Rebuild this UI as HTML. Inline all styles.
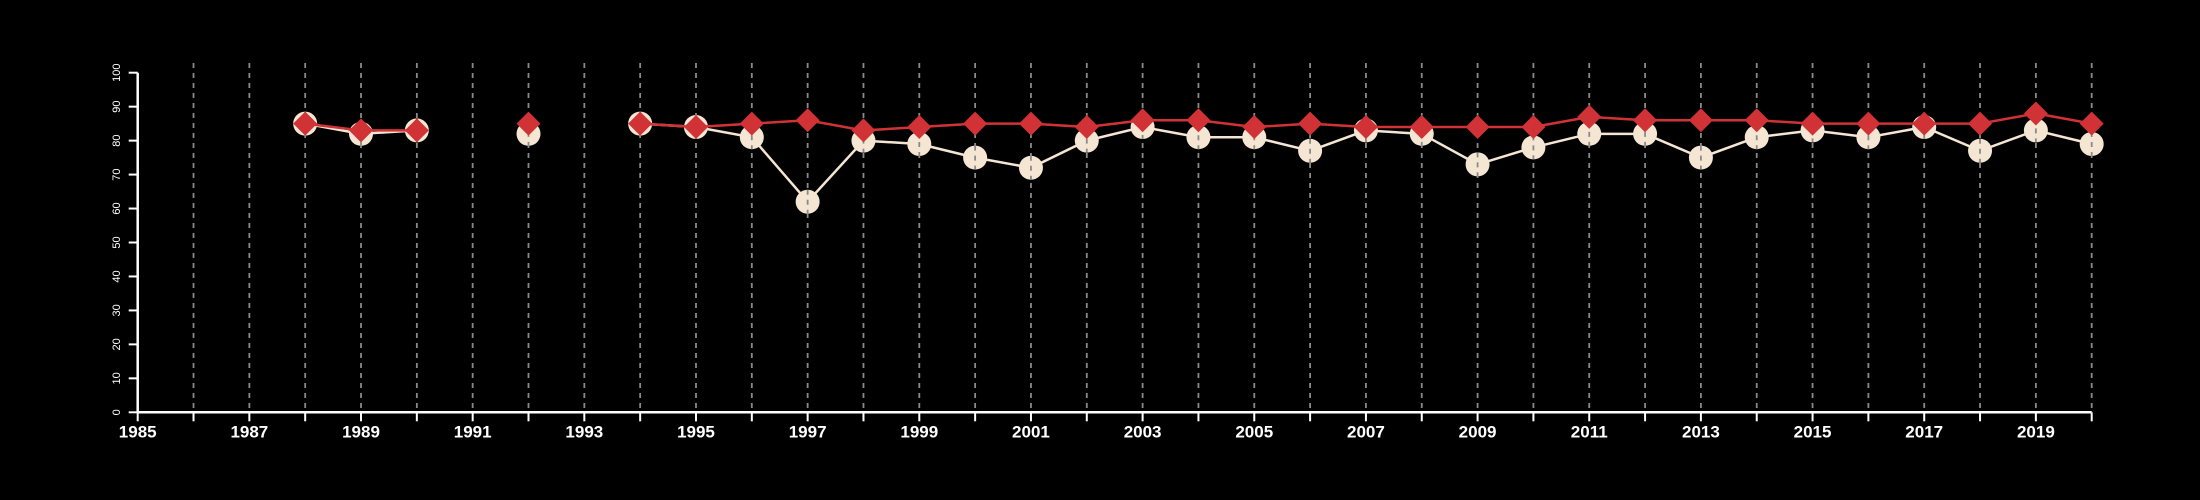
<!DOCTYPE html>
<html><head><meta charset="utf-8"><style>
html,body{margin:0;padding:0;background:#000;}
svg{display:block;font-family:"Liberation Sans",Arial,sans-serif;}
</style></head><body>
<svg id="chart" width="2200" height="500" viewBox="0 0 2200 500" xmlns="http://www.w3.org/2000/svg">
<rect width="2200" height="500" fill="#000"/>
<g id="grid"></g>
<g id="axes"></g>
<g id="series"></g>
</svg>
<script>
const years = [1988,1989,1990,1991,1992,1993,1994,1995,1996,1997,1998,1999,2000,2001,2002,2003,2004,2005,2006,2007,2008,2009,2010,2011,2012,2013,2014,2015,2016,2017,2018,2019,2020];
const whiteValues = [85,82,83,null,82,null,85,84,81,62,80,79,75,72,80,84,81,81,77,83,82,73,78,82,82,75,81,83,81,84,77,83,79];
const redValues = [85,83,83,null,85,null,85,84,85,86,83,84,85,85,84,86,86,84,85,84,84,84,84,87,86,86,86,85,85,85,85,88,85];
const yTicks = [0,10,20,30,40,50,60,70,80,90,100];
const xTickLabels = [1985,1987,1989,1991,1993,1995,1997,1999,2001,2003,2005,2007,2009,2011,2013,2015,2017,2019];

const NS="http://www.w3.org/2000/svg";
const X0=137.7, X1=2091.7, YR0=1985, YR1=2020, Y0=412.3, Y100=72.7;
const xs=v=>X0+(v-YR0)*(X1-X0)/(YR1-YR0);
const ys=v=>Y0+(v/100)*(Y100-Y0);
function mk(tag,attrs,parent){const e=document.createElementNS(NS,tag);for(const k in attrs)e.setAttribute(k,attrs[k]);parent.appendChild(e);return e;}
const grid=document.getElementById('grid'),axes=document.getElementById('axes'),series=document.getElementById('series');

for(let y=YR0+1;y<=YR1;y++){
  const l=mk('line',{x1:xs(y),x2:xs(y),y1:63,y2:Y0,stroke:'#8a8a8a','stroke-width':1.8,'stroke-dasharray':'5,5'},grid);
  
  
}
const xa=mk('line',{x1:X0,x2:X1,y1:Y0,y2:Y0,stroke:'#fff','stroke-width':2.5},axes);


const ya=mk('line',{x1:X0,x2:X0,y1:Y0,y2:Y100,stroke:'#fff','stroke-width':2.5},axes);


for(let y=YR0;y<=YR1;y++){
  const t=mk('line',{x1:xs(y),x2:xs(y),y1:Y0,y2:Y0+9,stroke:'#fff','stroke-width':2},axes);
  
  
}
xTickLabels.forEach(v=>{
  const t=mk('text',{x:xs(v),y:Y0+25,fill:'#fff','font-size':17,'font-weight':'bold','text-anchor':'middle'},axes);
  t.textContent=v;
  
  
});
yTicks.forEach(v=>{
  const t=mk('line',{x1:X0-9,x2:X0,y1:ys(v),y2:ys(v),stroke:'#fff','stroke-width':2},axes);
  
  
  const tx=mk('text',{x:0,y:0,fill:'#fff','font-size':11,'text-anchor':'middle',transform:`translate(120,${ys(v)}) rotate(-90)`},axes);
  tx.textContent=v;
  
  
});

function drawLine(vals,color,name){
  let segs=[],cur=[];
  vals.forEach((v,i)=>{if(v==null){if(cur.length)segs.push(cur);cur=[];}else cur.push([xs(years[i]),ys(v)]);});
  if(cur.length)segs.push(cur);
  segs.forEach(s=>{if(s.length<2)return;
    const p=mk('polyline',{points:s.map(q=>q.join(',')).join(' '),fill:'none',stroke:color,'stroke-width':2.5},series);
    
    
  });
}
drawLine(whiteValues,'#f5e6d3','white-series-line');
whiteValues.forEach((v,i)=>{if(v==null)return;
  const c=mk('circle',{cx:xs(years[i]),cy:ys(v),r:12,fill:'#f5e6d3'},series);
  
  
  mk('line',{x1:xs(years[i]),x2:xs(years[i]),y1:ys(v)-12,y2:ys(v)+12,stroke:'#8a8a8a','stroke-width':1.8,'stroke-dasharray':'5,5'},series);
});
drawLine(redValues,'#d03236','red-series-line');
redValues.forEach((v,i)=>{if(v==null)return;
  const x=xs(years[i]),y=ys(v),r=12;
  const d=mk('polygon',{points:`${x},${y-r} ${x+r},${y} ${x},${y+r} ${x-r},${y}`,fill:'#d03236'},series);
  
  
});
</script>
</body></html>
